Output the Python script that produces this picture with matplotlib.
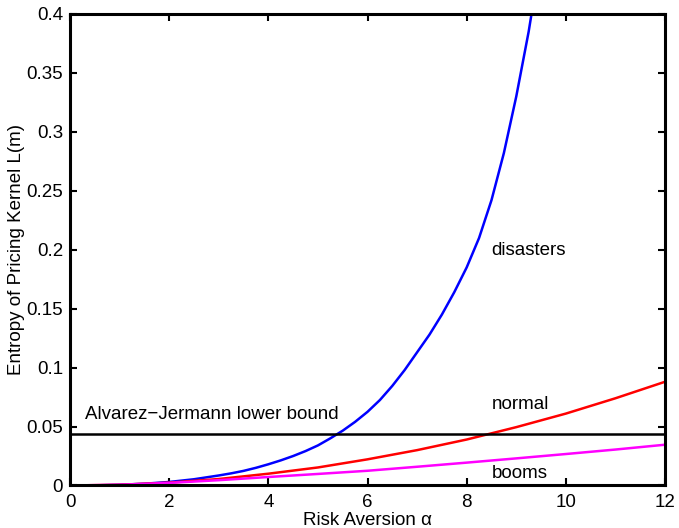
import matplotlib
matplotlib.use("Agg")
import matplotlib.pyplot as plt

plt.rcParams['font.family'] = ['Liberation Sans', 'DejaVu Sans']

# Risk aversion grid for the disasters curve and entropy values
alpha_dis = [0, 0.5, 1, 1.5, 2, 2.5, 3, 3.25, 3.5, 3.75, 4, 4.25, 4.5, 4.75, 5, 5.25, 5.5,
             5.75, 6, 6.25, 6.5, 6.75, 7, 7.25, 7.5, 7.75, 8, 8.25, 8.5, 8.75, 9, 9.25, 9.5]
disasters = [0, 0.0001, 0.0006, 0.0015, 0.0030, 0.0053, 0.0085, 0.0103, 0.0124, 0.0150,
             0.0180, 0.0213, 0.0250, 0.0292, 0.0340, 0.0400, 0.0465, 0.0540, 0.0625,
             0.0725, 0.0845, 0.0980, 0.1130, 0.1280, 0.1450, 0.1640, 0.1850, 0.2100,
             0.2420, 0.2820, 0.3300, 0.3850, 0.4500]

alpha_int = [0, 1, 2, 3, 4, 5, 6, 7, 8, 9, 10, 11, 12]
normal = [0, 0.0006, 0.0024, 0.0055, 0.0100, 0.0153, 0.0222, 0.0300, 0.0390, 0.0495,
          0.0610, 0.0740, 0.0880]
booms = [0, 0.0006, 0.0022, 0.0045, 0.0072, 0.0098, 0.0125, 0.0159, 0.0194, 0.0230,
         0.0267, 0.0305, 0.0346]

bound_value = 0.044
bound_x = [0, 12]

x_ticks = [0, 2, 4, 6, 8, 10, 12]
y_ticks = [0, 0.05, 0.1, 0.15, 0.2, 0.25, 0.3, 0.35, 0.4]
y_tick_labels = ['0', '0.05', '0.1', '0.15', '0.2', '0.25', '0.3', '0.35', '0.4']

fig = plt.figure(figsize=(6.79, 5.28), dpi=100)
ax = fig.add_axes([0.1031, 0.0805, 0.8763, 0.893])

ax.plot(alpha_dis, disasters, color='#0000ff', lw=1.8)
ax.plot(alpha_int, normal, color='#ff0000', lw=1.8)
ax.plot(alpha_int, booms, color='#ff00ff', lw=1.8)
ax.plot(bound_x, [bound_value, bound_value], color='black', lw=1.8)

fs = 13.5
ax.text(8.5, 0.199, 'disasters', fontsize=fs, va='center', ha='left')
ax.text(8.5, 0.069, 'normal', fontsize=fs, va='center', ha='left')
ax.text(8.5, 0.0098, 'booms', fontsize=fs, va='center', ha='left')
ax.text(0.3, 0.0600, 'Alvarez\u2212Jermann lower bound', fontsize=fs, va='center', ha='left')

ax.set_xlim(0, 12)
ax.set_ylim(0, 0.4)
ax.set_xticks(x_ticks)
ax.set_xticklabels([str(v) for v in x_ticks])
ax.set_yticks(y_ticks)
ax.set_yticklabels(y_tick_labels)
ax.tick_params(direction='in', length=5, width=1.5, labelsize=fs, top=True, right=True)
ax.tick_params(axis='x', pad=6)
ax.tick_params(axis='y', pad=5)
for s in ax.spines.values():
    s.set_linewidth(2.2)

ax.set_xlabel('Risk Aversion \u03b1', fontsize=fs, labelpad=1)
ax.set_ylabel('Entropy of Pricing Kernel L(m)', fontsize=fs, labelpad=1)

fig.savefig('out.png', dpi=100)
